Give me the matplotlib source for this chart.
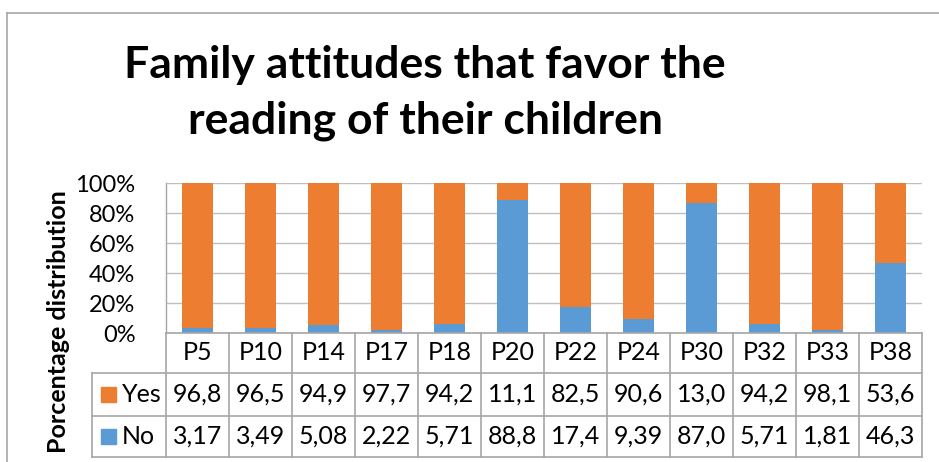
import matplotlib
matplotlib.use("Agg")
import matplotlib.pyplot as plt
from matplotlib.lines import Line2D
from matplotlib.patches import Rectangle

plt.rcParams['font.family'] = ['Lato', 'DejaVu Sans']

categories = ["P5", "P10", "P14", "P17", "P18", "P20", "P22", "P24", "P30", "P32", "P33", "P38"]
yes_vals = [96.8, 96.5, 94.9, 97.7, 94.2, 11.1, 82.5, 90.6, 13.0, 94.2, 98.1, 53.6]
no_vals = [3.17, 3.49, 5.08, 2.22, 5.71, 88.8, 17.4, 9.39, 87.0, 5.71, 1.81, 46.3]
yes_labels = ["96,8", "96,5", "94,9", "97,7", "94,2", "11,1", "82,5", "90,6", "13,0", "94,2", "98,1", "53,6"]
no_labels = ["3,17", "3,49", "5,08", "2,22", "5,71", "88,8", "17,4", "9,39", "87,0", "5,71", "1,81", "46,3"]
yticks = [0, 20, 40, 60, 80, 100]
title = "Family attitudes that favor the\nreading of their children"

ORANGE = "#ED7D31"
BLUE = "#5B9BD5"
GRID = "#BFBFBF"
LINE = "#A6A6A6"

W, H = 939, 462
fig = plt.figure(figsize=(W / 100, H / 100), dpi=100)

def fx(px):
    return px / W

def fy(py):
    return 1 - py / H

ax_left, ax_right, ax_top, ax_bot = 166, 922, 183, 333
ax = fig.add_axes([fx(ax_left), fy(ax_bot), fx(ax_right - ax_left), (ax_bot - ax_top) / H])

n = len(categories)
x = list(range(n))
tot = [y + no for y, no in zip(yes_vals, no_vals)]
no_pct = [100 * a / t for a, t in zip(no_vals, tot)]
yes_pct = [100 * a / t for a, t in zip(yes_vals, tot)]
ax.bar(x, no_pct, width=0.5, color=BLUE, zorder=3)
ax.bar(x, yes_pct, width=0.5, bottom=no_pct, color=ORANGE, zorder=3)
ax.set_xlim(-0.5, n - 0.5)
ax.set_ylim(0, 100)
ax.set_yticks(yticks)
ax.set_yticklabels([f"{v}%" for v in yticks], fontsize=17)
ax.set_xticks([])
ax.tick_params(axis='y', length=0, pad=22)
ax.yaxis.grid(True, color=GRID, linewidth=1, zorder=0)
for s in ["top", "right", "bottom"]:
    ax.spines[s].set_visible(False)
ax.spines["left"].set_color(LINE)
ax.spines["left"].set_linewidth(1)

# Table below axes (in pixel coords of figure)
row_y = [333, 373, 416, 457]
leg_left = 92
col_w = (ax_right - ax_left) / n

def hline(x0, x1, y):
    fig.add_artist(Line2D([fx(x0), fx(x1)], [fy(y), fy(y)], color=LINE, linewidth=1.2))

def vline(xp, y0, y1):
    fig.add_artist(Line2D([fx(xp), fx(xp)], [fy(y0), fy(y1)], color=LINE, linewidth=1.2))

hline(ax_left, ax_right, row_y[0])
for yy in row_y[1:]:
    hline(leg_left, ax_right, yy)
for i in range(n + 1):
    vline(ax_left + i * col_w, row_y[0], row_y[3])
vline(leg_left, row_y[1], row_y[3])

fs = 18
for i, c in enumerate(categories):
    cx = ax_left + (i + 0.5) * col_w
    fig.text(fx(cx), fy((row_y[0] + row_y[1]) / 2), c, ha='center', va='center', fontsize=fs)
    fig.text(fx(cx), fy((row_y[1] + row_y[2]) / 2), yes_labels[i], ha='center', va='center', fontsize=fs)
    fig.text(fx(cx), fy((row_y[2] + row_y[3]) / 2), no_labels[i], ha='center', va='center', fontsize=fs)

for (lbl, col, r) in [("Yes", ORANGE, 1), ("No", BLUE, 2)]:
    cy = (row_y[r] + row_y[r + 1]) / 2
    fig.add_artist(Rectangle((fx(101), fy(cy + 7.5)), fx(15), 15 / H, color=col, transform=fig.transFigure))
    fig.text(fx(122), fy(cy), lbl, ha='left', va='center', fontsize=fs)

fig.text(fx(59), fy(322), "Porcentage distribution", rotation=90, ha='center', va='center',
         fontsize=18, fontweight='bold')

fig.text(fx(425), fy(93), title, ha='center', va='center', fontsize=32, fontweight='bold',
         linespacing=1.45)

# outer border
fig.add_artist(Line2D([fx(7), fx(W)], [fy(13), fy(13)], color=LINE, linewidth=1.2))
fig.add_artist(Line2D([fx(7), fx(7)], [fy(13), fy(H)], color=LINE, linewidth=1.2))

fig.savefig("out.png", dpi=100)
